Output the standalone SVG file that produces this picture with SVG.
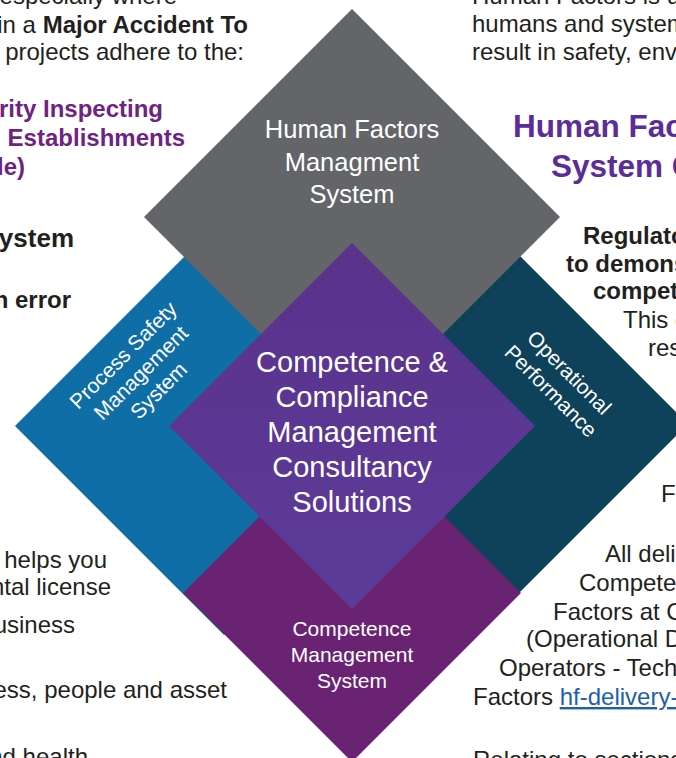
<svg xmlns="http://www.w3.org/2000/svg" width="676" height="758" viewBox="0 0 676 758">
<defs>
<linearGradient id="purpleGrad" x1="0" y1="0" x2="0" y2="1">
<stop offset="0" stop-color="#5a318b"/>
<stop offset="1" stop-color="#5c3c99"/>
</linearGradient>
</defs>
<style>
text{font-family:"Liberation Sans",Arial,Helvetica,sans-serif;}
.body{font-size:24px;fill:#231f20;}
.b{font-weight:bold;}
.big{font-size:26px;}
.lp{fill:#6e2382;font-weight:bold;}
.head{font-size:31.5px;font-weight:bold;fill:#5c2c99;}
.lbl{fill:#ffffff;text-anchor:middle;}
.link{fill:#1f5fa8;text-decoration:underline;}
</style>
<rect width="676" height="758" fill="#ffffff"/>
<g id="background-text">
<text class="body" x="177" y="4" text-anchor="end">especially where</text>
<text class="body" x="248" y="33" text-anchor="end">in a <tspan class="b">Major Accident To</tspan></text>
<text class="body" x="244" y="60" text-anchor="end">projects adhere to the:</text>
<text class="body lp" x="163" y="117" text-anchor="end">rity Inspecting</text>
<text class="body lp" x="185" y="146" text-anchor="end">d Establishments</text>
<text class="body lp" x="25" y="175" text-anchor="end">le)</text>
<text class="body b big" x="74" y="247" text-anchor="end">ystem</text>
<text class="body b" x="71" y="308" text-anchor="end">n error</text>
<text class="body" x="107" y="568" text-anchor="end">helps you</text>
<text class="body" x="111" y="595" text-anchor="end">ntal license</text>
<text class="body" x="75" y="633" text-anchor="end">usiness</text>
<text class="body" x="227" y="698" text-anchor="end">ess, people and asset</text>
<text class="body" x="88" y="765" text-anchor="end">nd health</text>
<text class="body" x="472" y="4">Human Factors is u</text>
<text class="body" x="472" y="32">humans and system</text>
<text class="body" x="472" y="60">result in safety, env</text>
<text class="head" x="513" y="137">Human Fac</text>
<text class="head" x="551" y="177">System C</text>
<text class="body b" x="583" y="244">Regulato</text>
<text class="body b" x="566" y="272">to demons</text>
<text class="body b" x="593" y="299">compet</text>
<text class="body" x="623" y="328">This c</text>
<text class="body" x="648" y="356">res</text>
<text class="body" x="661" y="502">F</text>
<text class="body" x="605" y="562">All deli</text>
<text class="body" x="579" y="591">Compete</text>
<text class="body" x="553" y="620">Factors at C</text>
<text class="body" x="526" y="647">(Operational D</text>
<text class="body" x="499" y="676">Operators - Tech</text>
<text class="body" x="473" y="705">Factors <tspan class="link">hf-delivery-</tspan></text>
<text class="body" x="473" y="768">Relating to sections</text>
</g>
<g id="connectors"/>
<g id="process-safety">
<polygon points="224,217 433,426 224,635 15,426" fill="#0f6ea6"/>
<g transform="translate(141,373) rotate(-45)" font-size="21">
<text class="lbl" x="0" y="-18">Process Safety</text>
<text class="lbl" x="0" y="7">Management</text>
<text class="lbl" x="0" y="32">System</text>
</g>
</g>
<g id="operational-performance">
<polygon points="479,215 688,424 479,633 270,424" fill="#0e415a"/>
<g transform="translate(560,382) rotate(45)" font-size="21">
<text class="lbl" x="0" y="-6">Operational</text>
<text class="lbl" x="0" y="20">Performance</text>
</g>
</g>
<g id="human-factors">
<polygon points="352,9 560,217 352,425 144,217" fill="#636569"/>
<text class="lbl" x="352" y="138" font-size="25.5">Human Factors</text>
<text class="lbl" x="352" y="171" font-size="25.5">Managment</text>
<text class="lbl" x="352" y="203" font-size="25.5">System</text>
</g>
<g id="competence-management">
<polygon points="352,424 521,593 352,762 183,593" fill="#6a2373"/>
<text class="lbl" x="352" y="636" font-size="21">Competence</text>
<text class="lbl" x="352" y="662" font-size="21">Management</text>
<text class="lbl" x="352" y="688" font-size="21">System</text>
</g>
<g id="center">
<polygon points="352,243 535,426 352,609 169,426" fill="url(#purpleGrad)"/>
<text class="lbl" x="352" y="372" font-size="29">Competence &amp;</text>
<text class="lbl" x="352" y="407" font-size="29">Compliance</text>
<text class="lbl" x="352" y="442" font-size="29">Management</text>
<text class="lbl" x="352" y="477" font-size="29">Consultancy</text>
<text class="lbl" x="352" y="512" font-size="29">Solutions</text>
</g>
</svg>
